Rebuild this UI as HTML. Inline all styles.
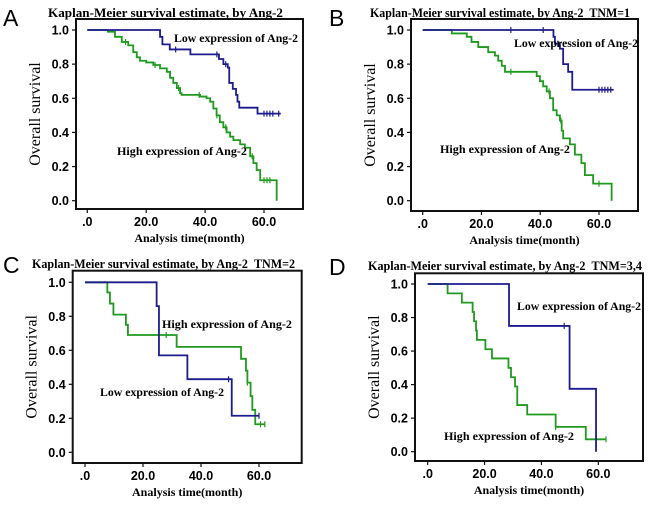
<!DOCTYPE html>
<html><head><meta charset="utf-8"><style>
body{margin:0;background:#fff}
svg{display:block}
.ttl{font-family:"Liberation Serif",serif;font-weight:bold;font-size:12.5px}
.tk{font-family:"Liberation Sans",sans-serif;font-weight:bold;font-size:12.5px}
.yl{font-family:"Liberation Serif",serif;font-size:16px}
.xl{font-family:"Liberation Serif",serif;font-weight:bold;font-size:12px}
.ann{font-family:"Liberation Serif",serif;font-weight:bold;font-size:11.8px}
.let{font-family:"Liberation Sans",sans-serif;font-size:23px}
</style></head><body>
<svg id="fig" width="650" height="506" viewBox="0 0 650 506" xmlns="http://www.w3.org/2000/svg"></svg>
<script>
// ---- data (time in months, survival after event) ----
const xTicks=[0,20,40,60];
const xTickLabels=[".0","20.0","40.0","60.0"];
const yTicks=[0,0.2,0.4,0.6,0.8,1.0];
const yTickLabels=["0.0","0.2","0.4","0.6","0.8","1.0"];

const aLowT=[24.7,25.5,28,35,44.7,46.2,47.7,48.2,49.4,50.5,51,51.6,57.8];
const aLowS=[0.96,0.916,0.886,0.857,0.83,0.80,0.78,0.69,0.655,0.62,0.58,0.545,0.51];
const aLowEnd=65.7;
const aLowC=[30,44,47,60,61,62,63,65];
const aHighT=[7,9.4,11.7,13.9,15.6,16.8,17.9,20,22.4,24.7,27,28.1,29.2,30.4,31.5,32,38.3,40.5,41.7,42.8,43.9,45,46.2,47.3,48.5,49.6,51.9,53.5,55.3,56.4,57.5,58.7,64.3];
const aHighS=[0.99,0.96,0.93,0.91,0.87,0.84,0.82,0.81,0.795,0.775,0.755,0.72,0.69,0.66,0.63,0.62,0.61,0.60,0.58,0.54,0.50,0.46,0.43,0.40,0.375,0.355,0.33,0.31,0.26,0.22,0.18,0.12,0.0];
const aHighEnd=64.3;
const aHighC=[13,23,31,38,44,47,56,60,61,62];

const bLowT=[44.5,45,46.7,47.8,49.5,50.9];
const bLowS=[0.96,0.92,0.89,0.80,0.755,0.65];
const bLowEnd=65;
const bLowC=[30,41,46,60,61,62,63,64];
const bHighT=[9.9,15,16.6,18.9,22.3,24.6,25.7,26.9,28,38.8,39.9,41,42.2,43.3,44.4,45.6,46.7,47.3,47.8,50.1,51.8,54,55.2,58,64.3];
const bHighS=[0.98,0.96,0.93,0.90,0.87,0.85,0.82,0.79,0.755,0.73,0.70,0.67,0.64,0.60,0.53,0.50,0.47,0.41,0.365,0.33,0.27,0.22,0.15,0.10,0.0];
const bHighEnd=64.3;
const bHighC=[30,43,47,60];

const cLowT=[24.7,25.5,35.3,50.6];
const cLowS=[0.86,0.57,0.43,0.215];
const cLowEnd=60;
const cLowC=[49.5,60];
const cHighT=[7.7,8.6,9.8,14.1,14.8,31.6,53.8,55.5,56,57.1,57.7,58.7];
const cHighS=[0.94,0.875,0.81,0.75,0.69,0.62,0.55,0.48,0.41,0.33,0.25,0.165];
const cHighEnd=62;
const cHighC=[28,56,60.5,62];

const dLowT=[28.6,49.9,59.2];
const dLowS=[0.75,0.375,0.0];
const dLowEnd=59.2;
const dLowC=[48];
const dHighT=[7,12,15.8,16.3,17,17.3,20.3,22.6,28.4,29.3,30.7,31.5,35,45,55.6];
const dHighS=[0.944,0.889,0.833,0.778,0.722,0.667,0.611,0.556,0.5,0.444,0.389,0.278,0.222,0.148,0.074];
const dHighEnd=62.7;
const dHighC=[45,62.7];

const NS="http://www.w3.org/2000/svg";
const svg=document.getElementById('fig');
function mk(tag,attrs,parent,text){const e=document.createElementNS(NS,tag);for(const k in attrs)e.setAttribute(k,attrs[k]);if(text!==undefined)e.textContent=text;(parent||svg).appendChild(e);return e;}

const BLUE="#1c1c8e", GREEN="#1f9a1f";

function panel(p){
  const g=mk('g',{});
  
  
  const xs=t=>p.x0+t*(p.x60-p.x0)/60;
  const ys=v=>p.y0+v*(p.y1-p.y0);
  const L=mk('text',{x:p.lx,y:p.ly,class:'let'},g,p.id.toUpperCase());
  
  
  const T=mk('text',{x:p.tx,y:p.ty,class:'ttl',textLength:p.tw,lengthAdjust:'spacingAndGlyphs'},g,p.title);
  
  
  const F=mk('rect',{x:p.fl,y:p.ft,width:p.fr-p.fl,height:p.fb-p.ft,fill:'none',stroke:'#111','stroke-width':2},g);
  
  
  yTicks.forEach((v,i)=>{
    const y=ys(v);
    mk('line',{x1:p.fl-4,x2:p.fl,y1:y,y2:y,stroke:'#111','stroke-width':1.2},g);
    const t=mk('text',{x:p.fl-7,y:y+4.5,class:'tk','text-anchor':'end'},g,yTickLabels[i]);
    
    
  });
  xTicks.forEach((v,i)=>{
    const x=xs(v);
    mk('line',{x1:x,x2:x,y1:p.fb,y2:p.fb+4,stroke:'#111','stroke-width':1.2},g);
    const t=mk('text',{x:x,y:p.fb+17,class:'tk','text-anchor':'middle'},g,xTickLabels[i]);
    
    
  });
  const yl=mk('text',{x:0,y:0,class:'yl','text-anchor':'middle',transform:`translate(${p.fl-36},${(p.ft+p.fb)/2}) rotate(-90)`},g,'Overall survival');
  
  
  const xl=mk('text',{x:(p.fl+p.fr)/2,y:p.fb+33,class:'xl','text-anchor':'middle'},g,'Analysis time(month)');
  
  
  function curve(T,S,end,C,color,name){
    let d=`M${xs(0)},${ys(1)}`;
    T.forEach((t,i)=>{d+=` H${xs(t)} V${ys(S[i])}`;});
    d+=` H${xs(end)}`;
    const pth=mk('path',{d:d,fill:'none',stroke:color,'stroke-width':1.8},g);
    
    
    C.forEach(c=>{
      let s=1;T.forEach((t,i)=>{if(t<=c)s=S[i];});
      const m=mk('line',{x1:xs(c),x2:xs(c),y1:ys(s)-3,y2:ys(s)+3,stroke:color,'stroke-width':1.2},g);
      
      
    });
  }
  curve(p.hT,p.hS,p.hE,p.hC,GREEN,'high-expression-curve');
  curve(p.lT,p.lS,p.lE,p.lC,BLUE,'low-expression-curve');
  const a1=mk('text',{x:p.lowX,y:p.lowY,class:'ann',textLength:124,lengthAdjust:'spacingAndGlyphs'},g,'Low expression of Ang-2');
  
  
  const a2=mk('text',{x:p.highX,y:p.highY,class:'ann',textLength:130,lengthAdjust:'spacingAndGlyphs'},g,'High expression of Ang-2');
  
  
}
const SP='\u00a0\u00a0';
panel({id:'a',title:'Kaplan-Meier survival estimate, by Ang-2',lx:3,ly:26,tx:48,tw:235,ty:17,
  fl:76,ft:19,fr:303,fb:209,x0:87.3,x60:264,y0:200.7,y1:30,
  lT:aLowT,lS:aLowS,lE:aLowEnd,lC:aLowC,hT:aHighT,hS:aHighS,hE:aHighEnd,hC:aHighC,
  lowX:174,lowY:42,highX:117,highY:155});
panel({id:'b',title:'Kaplan-Meier survival estimate, by Ang-2'+SP+'TNM=1',lx:329,ly:26,tx:370,tw:260,ty:17,
  fl:411,ft:19,fr:638,fb:211,x0:422.7,x60:599,y0:200.7,y1:30,
  lT:bLowT,lS:bLowS,lE:bLowEnd,lC:bLowC,hT:bHighT,hS:bHighS,hE:bHighEnd,hC:bHighC,
  lowX:514,lowY:47,highX:440,highY:153});
panel({id:'c',title:'Kaplan-Meier survival estimate, by Ang-2'+SP+'TNM=2',lx:3,ly:273,tx:32,tw:263,ty:268,
  fl:72.7,ft:270.7,fr:301.7,fb:463,x0:85,x60:259,y0:452.3,y1:282.3,
  lT:cLowT,lS:cLowS,lE:cLowEnd,lC:cLowC,hT:cHighT,hS:cHighS,hE:cHighEnd,hC:cHighC,
  lowX:100,lowY:396,highX:162,highY:328});
panel({id:'d',title:'Kaplan-Meier survival estimate, by Ang-2'+SP+'TNM=3,4',lx:329,ly:275,tx:368,tw:274,ty:270,
  fl:415,ft:273.3,fr:643,fb:461,x0:427.7,x60:598.3,y0:451.7,y1:284,
  lT:dLowT,lS:dLowS,lE:dLowEnd,lC:dLowC,hT:dHighT,hS:dHighS,hE:dHighEnd,hC:dHighC,
  lowX:517,lowY:310,highX:444,highY:440});
</script>
</body></html>
